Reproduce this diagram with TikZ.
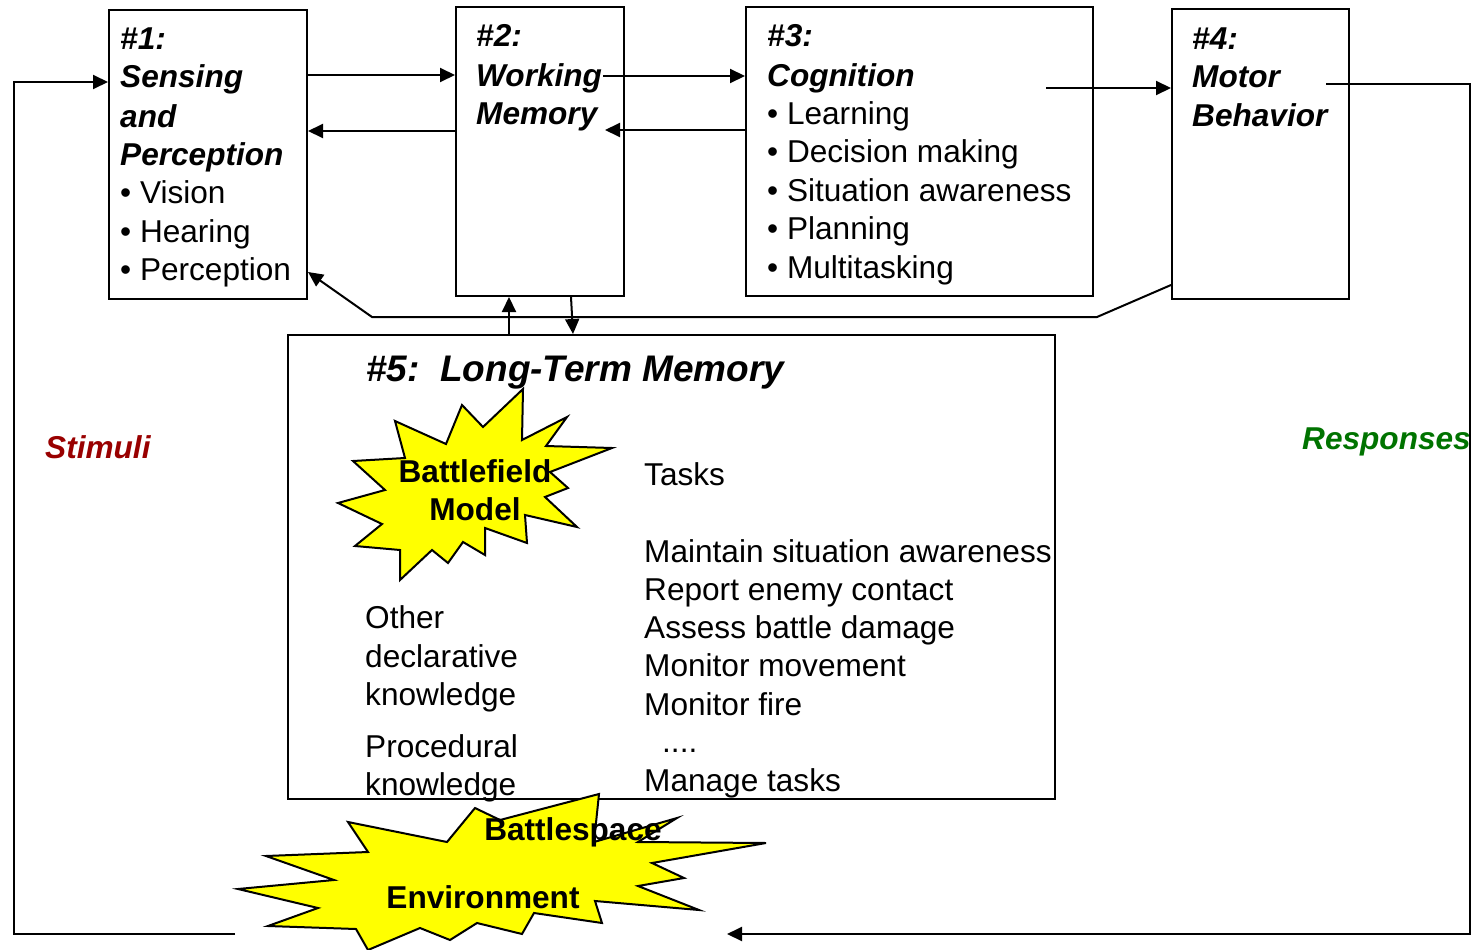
\documentclass[tikz,border=0pt]{standalone}
\usepackage{fontspec}
\setmainfont{Liberation Sans}
\usetikzlibrary{arrows.meta}
\definecolor{stimred}{RGB}{153,0,0}
\definecolor{respgreen}{RGB}{0,115,0}
\definecolor{staryellow}{RGB}{255,255,0}
\tikzset{
  box/.style={draw, line width=2pt, inner sep=0pt, anchor=north west},
  txt/.style={anchor=base west, inner sep=0pt, font=\fontsize{31.6}{38}\selectfont},
  hd/.style={anchor=base west, inner sep=0pt, font=\fontsize{31.6}{38}\selectfont\bfseries\itshape},
  bigtxt/.style={anchor=base, inner sep=0pt, font=\fontsize{31.6}{38}\selectfont\bfseries},
  arr/.style={line width=2pt, -{Triangle[length=15pt,width=14pt]}},
  ln/.style={line width=2pt},
  starshape/.style={fill=staryellow, draw=black, line width=2pt, line join=miter}
}
\begin{document}
\begin{tikzpicture}[x=1pt,y=-1pt]
\useasboundingbox (0,0) rectangle (1475,950);
% boxes
\node[box, minimum width=198pt, minimum height=289pt] (b1) at (108,9) {};
\node[box, minimum width=168pt, minimum height=289pt] (b2) at (455,6) {};
\node[box, minimum width=347pt, minimum height=289pt] (b3) at (745,6) {};
\node[box, minimum width=177pt, minimum height=290pt] (b4) at (1171,8) {};
\node[box, minimum width=767pt, minimum height=464pt] (b5) at (287,334) {};
% box 1 text
\node[hd] (t1a) at (120,50) {\#1:};
\node[hd] (t1b) at (120,88) {Sensing};
\node[hd] (t1c) at (120,127) {and};
\node[hd] (t1d) at (120,165) {Perception};
\node[txt] (t1e) at (120,203) {• Vision};
\node[txt] (t1f) at (120,242) {• Hearing};
\node[txt] (t1g) at (120,280) {• Perception};
% box 2 text
\node[hd] (t2a) at (476,47) {\#2:};
\node[hd] (t2b) at (476,86) {Working};
\node[hd] (t2c) at (476,124) {Memory};
% box 3 text
\node[hd] (t3a) at (767,47) {\#3:};
\node[hd] (t3b) at (767,86) {Cognition};
\node[txt] (t3c) at (767,124) {• Learning};
\node[txt] (t3d) at (767,162) {• Decision making};
\node[txt] (t3e) at (767,201) {• Situation awareness};
\node[txt] (t3f) at (767,239) {• Planning};
\node[txt] (t3g) at (767,278) {• Multitasking};
% box 4 text
\node[hd] (t4a) at (1192,50) {\#4:};
\node[hd] (t4b) at (1192,88) {Motor};
\node[hd] (t4c) at (1192,126) {Behavior};
% box 5 text
\node[anchor=base west, inner sep=0pt, font=\fontsize{37}{44}\selectfont\bfseries\itshape] (t5a) at (366,381) {\#5:\ \ Long-Term Memory};
\node[txt] (t5b) at (644,485) {Tasks};
\node[txt] (t5c) at (644,562) {Maintain situation awareness};
\node[txt] (t5d) at (644,600) {Report enemy contact};
\node[txt] (t5e) at (644,638) {Assess battle damage};
\node[txt] (t5f) at (644,676) {Monitor movement};
\node[txt] (t5g) at (644,715) {Monitor fire};
\node[txt] (t5h) at (662,752) {....};
\node[txt] (t5i) at (644,791) {Manage tasks};
\node[txt] (t5j) at (365,628) {Other};
\node[txt] (t5k) at (365,667) {declarative};
\node[txt] (t5l) at (365,705) {knowledge};
\node[txt] (t5m) at (365,757) {Procedural};
\node[txt] (t5n) at (365,795) {knowledge};
% side labels
\node[hd, text=stimred] (stim) at (45,458) {Stimuli};
\node[hd, text=respgreen] (resp) at (1302,449) {Responses};
% connectors between boxes
\draw[arr] (b1.east |- 0,75) -- (b2.west |- 0,75);
\draw[arr] (b2.west |- 0,131) -- (b1.east |- 0,131);
\coordinate (c23) at (603,76);
\draw[arr] (c23) -- (b3.west |- c23);
\coordinate (c32) at (605,130);
\draw[arr] (b3.west |- c32) -- (c32);
\coordinate (c34) at (1046,88);
\draw[arr] (c34) -- (b4.west |- c34);
% feedback line along the bottom of the top boxes
\coordinate (fb1) at (1097,317);
\coordinate (fb2) at (372,317);
\draw[arr] (b4.west |- 0,285) -- (fb1) -- (fb2) -- (b1.east |- 0,272);
% working memory <-> long-term memory
\draw[arr] (b5.north -| 509,0) -- (b2.south -| 509,0);
\draw[arr] (b2.south -| 571,0) -- (b5.north -| 573,0);
% response loop
\coordinate (r0) at (1326,84);
\coordinate (r1) at (1470,84);
\coordinate (r2) at (1470,934);
\coordinate (r3) at (727,934);
\draw[arr] (r0) -- (r1) -- (r2) -- (r3);
% stimulus loop
\coordinate (s0) at (235,934);
\coordinate (s1) at (14,934);
\coordinate (s2) at (14,82);
\draw[arr] (s0) -- (s1) -- (s2) -- (b1.west |- s2);
% Battlefield Model starburst
\draw[starshape] (523,389) -- (522,440) -- (567,417) -- (546,446) -- (612,448) -- (550,472) -- (568,488) -- (545,497) -- (577,527) -- (525,515) -- (527,543) -- (485,528) -- (485,555) -- (463,542) -- (448,563) -- (432,550) -- (400,580) -- (400,550) -- (355,546) -- (382,524) -- (338,503) -- (385,490) -- (353,461) -- (405,458) -- (395,421) -- (446,444) -- (462,405) -- (483,427) -- cycle;
\node[bigtxt] (bm1) at (475,482) {Battlefield};
\node[bigtxt] (bm2) at (475,520) {Model};
% Battlespace Environment starburst
\draw[starshape] (599,794) -- (594,842) -- (677,818) -- (638,842) -- (766,843) -- (652,863) -- (684,878) -- (638,886) -- (699,910) -- (595,901) -- (602,923) -- (534,913) -- (522,934) -- (477,923) -- (450,940) -- (420,928) -- (368,950) -- (356,929) -- (268,926) -- (318,908) -- (238,889) -- (334,880) -- (266,856) -- (368,852) -- (348,822) -- (447,842) -- (475,808) -- (500,820) -- cycle;
\node[bigtxt] (be1) at (573,840) {Battlespace};
\node[bigtxt] (be2) at (483,908) {Environment};
\end{tikzpicture}
\end{document}
